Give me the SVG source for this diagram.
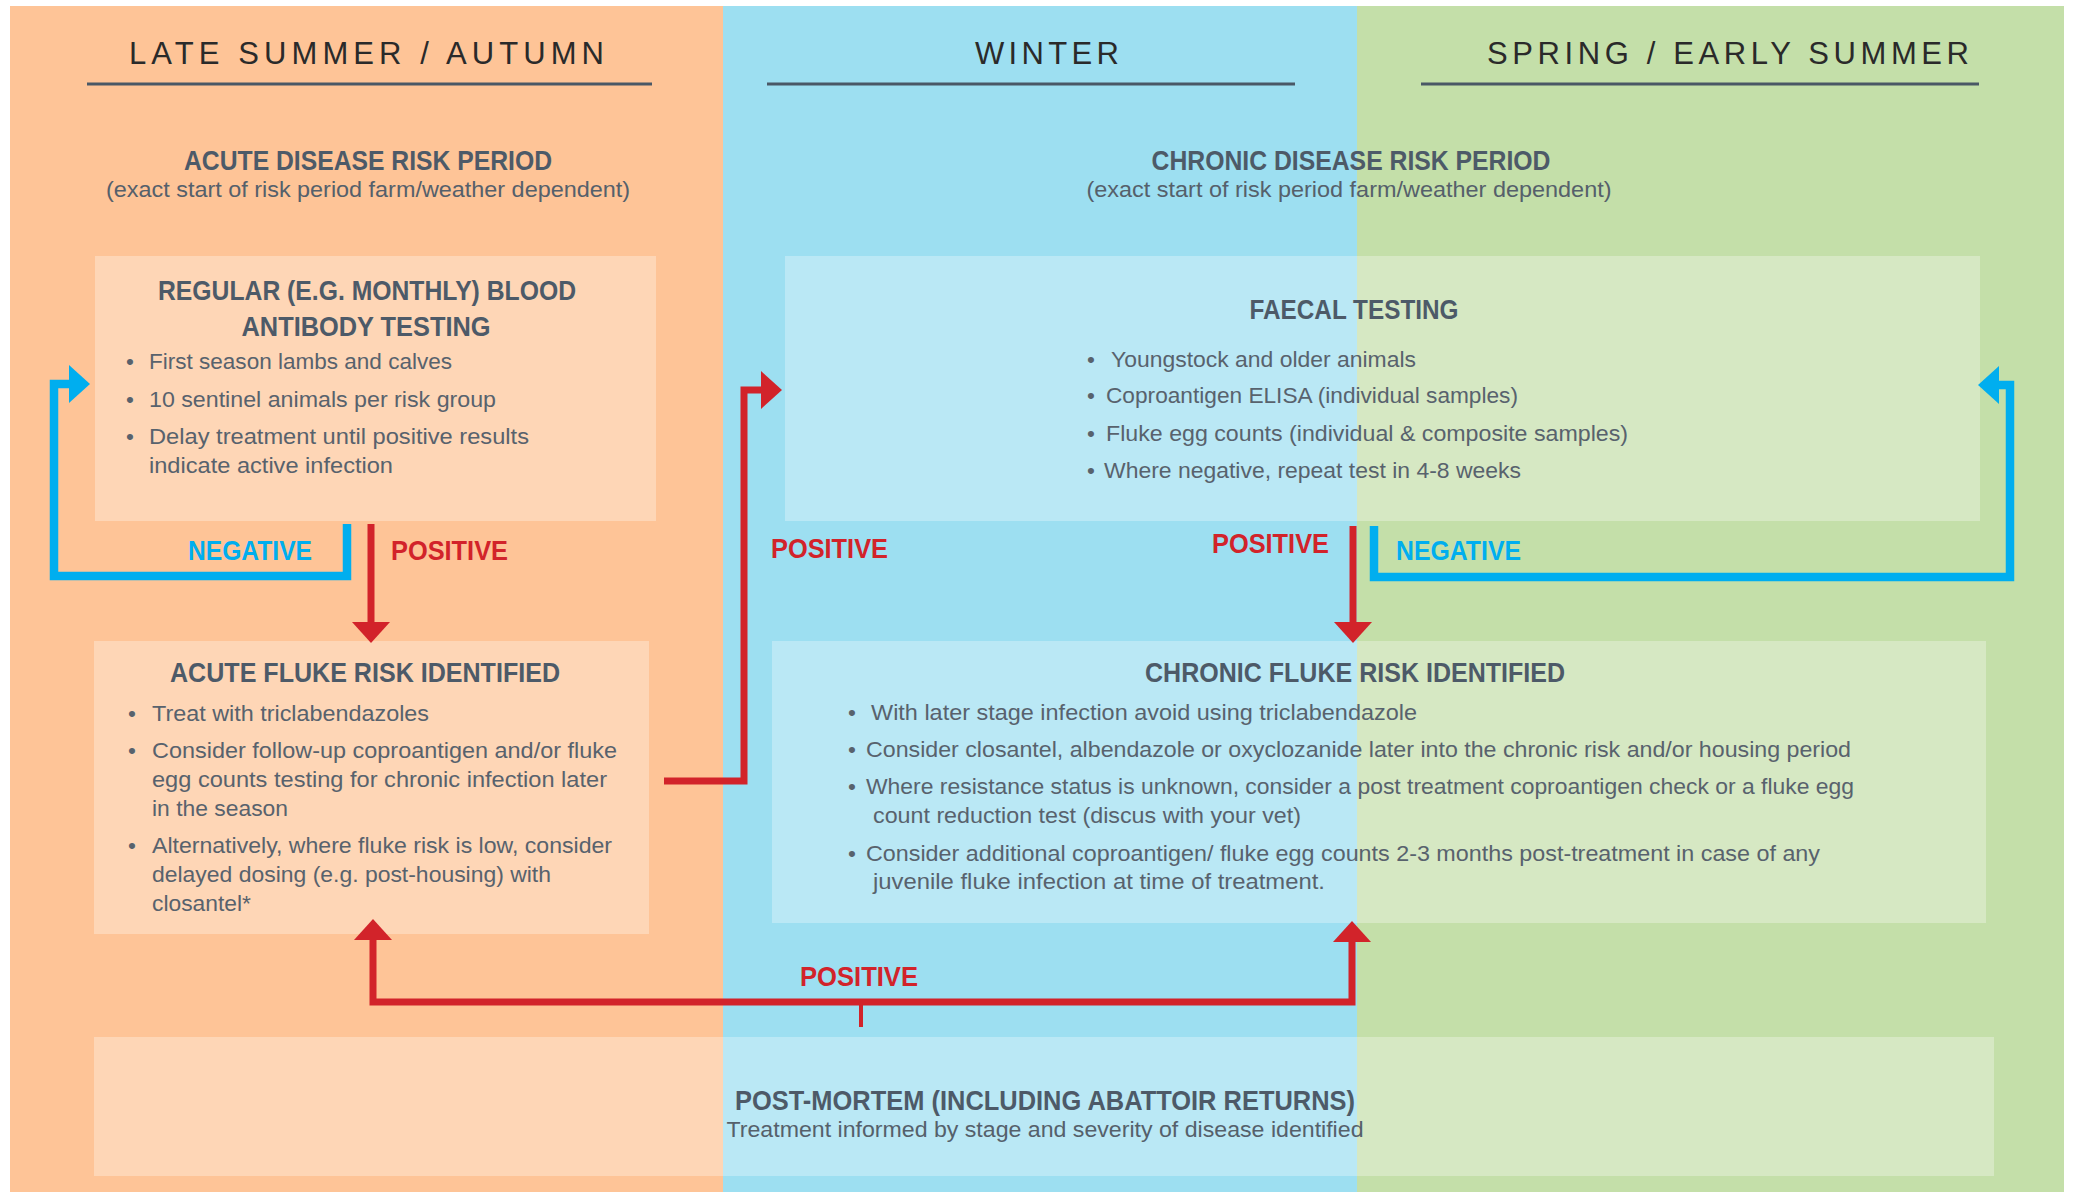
<svg xmlns="http://www.w3.org/2000/svg" width="2077" height="1192" viewBox="0 0 2077 1192">
<style>
.hdr{font-family:"Liberation Sans Narrow","Liberation Sans",sans-serif;font-size:31px;fill:#2a2a2a}
.ttl{font-family:"Liberation Sans Narrow","Liberation Sans",sans-serif;font-weight:bold;font-size:28px;fill:#4d5a68;text-anchor:middle}
.sub{font-family:"Liberation Sans Narrow","Liberation Sans",sans-serif;font-size:22px;fill:#55606b;text-anchor:middle}
.body{font-family:"Liberation Sans Narrow","Liberation Sans",sans-serif;font-size:22.5px;fill:#58626d}
.lbl{font-family:"Liberation Sans Narrow","Liberation Sans",sans-serif;font-weight:bold;font-size:28px}
.pos{fill:#d2232a}
.neg{fill:#00aeef}
.box{fill:#ffffff;fill-opacity:0.3}
.uline{stroke:#4a5866;stroke-width:3}
.red{fill:none;stroke:#d2232a;stroke-width:7;stroke-linejoin:miter}
.blue{fill:none;stroke:#00aeef;stroke-width:8.5;stroke-linejoin:miter}
</style>
<defs>
<marker id="hr" markerUnits="userSpaceOnUse" markerWidth="22" markerHeight="38" viewBox="0 0 22 38" refX="1" refY="19" orient="auto-start-reverse"><path d="M0,0 L21,19 L0,38 z" fill="#d2232a"/></marker>
<marker id="hb" markerUnits="userSpaceOnUse" markerWidth="22" markerHeight="38" viewBox="0 0 22 38" refX="1" refY="19" orient="auto"><path d="M0,0 L21,19 L0,38 z" fill="#00aeef"/></marker>
</defs>
<rect x="0" y="0" width="2077" height="1192" fill="#ffffff"/>
<g id="seasons">
<rect x="10" y="6" width="713" height="1186" fill="#fec497"/>
<rect x="723" y="6" width="634" height="1186" fill="#9ddff1"/>
<rect x="1357" y="6" width="707" height="1186" fill="#c4dfa9"/>
<text class="hdr" x="129" y="64" textLength="475" lengthAdjust="spacing">LATE SUMMER / AUTUMN</text>
<line class="uline" x1="87" y1="84" x2="652" y2="84"/>
<text class="hdr" x="975" y="64" textLength="144" lengthAdjust="spacing">WINTER</text>
<line class="uline" x1="767" y1="84" x2="1295" y2="84"/>
<text class="hdr" x="1487" y="64" textLength="482" lengthAdjust="spacing">SPRING / EARLY SUMMER</text>
<line class="uline" x1="1421" y1="84" x2="1979" y2="84"/>
</g>
<g id="acute-period">
<text class="ttl" x="368" y="170" textLength="368" lengthAdjust="spacingAndGlyphs">ACUTE DISEASE RISK PERIOD</text>
<text class="sub" x="368" y="197" textLength="524" lengthAdjust="spacingAndGlyphs">(exact start of risk period farm/weather dependent)</text>
</g>
<g id="chronic-period">
<text class="ttl" x="1351" y="170" textLength="399" lengthAdjust="spacingAndGlyphs">CHRONIC DISEASE RISK PERIOD</text>
<text class="sub" x="1349" y="197" textLength="525" lengthAdjust="spacingAndGlyphs">(exact start of risk period farm/weather dependent)</text>
</g>
<g id="blood-testing">
<rect class="box" x="95" y="256" width="561" height="265"/>
<text class="ttl" x="367" y="300" textLength="418" lengthAdjust="spacingAndGlyphs">REGULAR (E.G. MONTHLY) BLOOD</text>
<text class="ttl" x="366" y="336" textLength="249" lengthAdjust="spacingAndGlyphs">ANTIBODY TESTING</text>
<text class="body" x="126" y="369">•</text>
<text class="body" x="126" y="407">•</text>
<text class="body" x="126" y="444">•</text>
<text class="body" x="149" y="369" textLength="303" lengthAdjust="spacingAndGlyphs">First season lambs and calves</text>
<text class="body" x="149" y="407" textLength="347" lengthAdjust="spacingAndGlyphs">10 sentinel animals per risk group</text>
<text class="body" x="149" y="444" textLength="380" lengthAdjust="spacingAndGlyphs">Delay treatment until positive results</text>
<text class="body" x="149" y="473" textLength="244" lengthAdjust="spacingAndGlyphs">indicate active infection</text>
</g>
<g id="faecal-testing">
<rect class="box" x="785" y="256" width="1195" height="265"/>
<text class="ttl" x="1354" y="319" textLength="209" lengthAdjust="spacingAndGlyphs">FAECAL TESTING</text>
<text class="body" x="1087" y="367">•</text>
<text class="body" x="1087" y="403">•</text>
<text class="body" x="1087" y="441">•</text>
<text class="body" x="1087" y="478">•</text>
<text class="body" x="1111" y="367" textLength="305" lengthAdjust="spacingAndGlyphs">Youngstock and older animals</text>
<text class="body" x="1106" y="403" textLength="412" lengthAdjust="spacingAndGlyphs">Coproantigen ELISA (individual samples)</text>
<text class="body" x="1106" y="441" textLength="522" lengthAdjust="spacingAndGlyphs">Fluke egg counts (individual &amp; composite samples)</text>
<text class="body" x="1104" y="478" textLength="417" lengthAdjust="spacingAndGlyphs">Where negative, repeat test in 4-8 weeks</text>
</g>
<g id="acute-fluke">
<rect class="box" x="94" y="641" width="555" height="293"/>
<text class="ttl" x="365" y="682" textLength="390" lengthAdjust="spacingAndGlyphs">ACUTE FLUKE RISK IDENTIFIED</text>
<text class="body" x="128" y="721">•</text>
<text class="body" x="128" y="758">•</text>
<text class="body" x="128" y="853">•</text>
<text class="body" x="152" y="721" textLength="277" lengthAdjust="spacingAndGlyphs">Treat with triclabendazoles</text>
<text class="body" x="152" y="758" textLength="465" lengthAdjust="spacingAndGlyphs">Consider follow-up coproantigen and/or fluke</text>
<text class="body" x="152" y="787" textLength="455" lengthAdjust="spacingAndGlyphs">egg counts testing for chronic infection later</text>
<text class="body" x="152" y="816" textLength="136" lengthAdjust="spacingAndGlyphs">in the season</text>
<text class="body" x="152" y="853" textLength="460" lengthAdjust="spacingAndGlyphs">Alternatively, where fluke risk is low, consider</text>
<text class="body" x="152" y="882" textLength="399" lengthAdjust="spacingAndGlyphs">delayed dosing (e.g. post-housing) with</text>
<text class="body" x="152" y="911" textLength="99" lengthAdjust="spacingAndGlyphs">closantel*</text>
</g>
<g id="chronic-fluke">
<rect class="box" x="772" y="641" width="1214" height="282"/>
<text class="ttl" x="1355" y="682" textLength="420" lengthAdjust="spacingAndGlyphs">CHRONIC FLUKE RISK IDENTIFIED</text>
<text class="body" x="848" y="720">•</text>
<text class="body" x="848" y="757">•</text>
<text class="body" x="848" y="794">•</text>
<text class="body" x="848" y="861">•</text>
<text class="body" x="871" y="720" textLength="546" lengthAdjust="spacingAndGlyphs">With later stage infection avoid using triclabendazole</text>
<text class="body" x="866" y="757" textLength="985" lengthAdjust="spacingAndGlyphs">Consider closantel, albendazole or oxyclozanide later into the chronic risk and/or housing period</text>
<text class="body" x="866" y="794" textLength="988" lengthAdjust="spacingAndGlyphs">Where resistance status is unknown, consider a post treatment coproantigen check or a fluke egg</text>
<text class="body" x="873" y="823" textLength="428" lengthAdjust="spacingAndGlyphs">count reduction test (discus with your vet)</text>
<text class="body" x="866" y="861" textLength="954" lengthAdjust="spacingAndGlyphs">Consider additional coproantigen/ fluke egg counts 2-3 months post-treatment in case of any</text>
<text class="body" x="873" y="889" textLength="452" lengthAdjust="spacingAndGlyphs">juvenile fluke infection at time of treatment.</text>
</g>
<g id="post-mortem">
<rect class="box" x="94" y="1037" width="1900" height="139"/>
<text class="ttl" x="1045" y="1110" textLength="620" lengthAdjust="spacingAndGlyphs">POST-MORTEM (INCLUDING ABATTOIR RETURNS)</text>
<text class="sub" x="1045" y="1137" textLength="637" lengthAdjust="spacingAndGlyphs">Treatment informed by stage and severity of disease identified</text>
</g>
<g id="connectors">
<path class="blue" d="M347,524 V576 H54 V384 H70" marker-end="url(#hb)"/>
<path class="red" d="M371,524 V623" marker-end="url(#hr)"/>
<path class="red" d="M664,781 H744 V390 H762" marker-end="url(#hr)"/>
<path class="red" d="M1353,526 V623" marker-end="url(#hr)"/>
<path class="blue" d="M1374,526 V577 H2010 V385 H1998" marker-end="url(#hb)"/>
<path class="red" d="M861,1027 V1002" style="stroke-width:4"/>
<path class="red" d="M373,939 V1002 H1352 V941" marker-start="url(#hr)" marker-end="url(#hr)"/>
<text class="lbl neg" x="188" y="560" textLength="124" lengthAdjust="spacingAndGlyphs">NEGATIVE</text>
<text class="lbl pos" x="391" y="560" textLength="117" lengthAdjust="spacingAndGlyphs">POSITIVE</text>
<text class="lbl pos" x="771" y="558" textLength="117" lengthAdjust="spacingAndGlyphs">POSITIVE</text>
<text class="lbl pos" x="1212" y="553" textLength="117" lengthAdjust="spacingAndGlyphs">POSITIVE</text>
<text class="lbl neg" x="1396" y="560" textLength="125" lengthAdjust="spacingAndGlyphs">NEGATIVE</text>
<text class="lbl pos" x="800" y="986" textLength="118" lengthAdjust="spacingAndGlyphs">POSITIVE</text>
</g>
</svg>
